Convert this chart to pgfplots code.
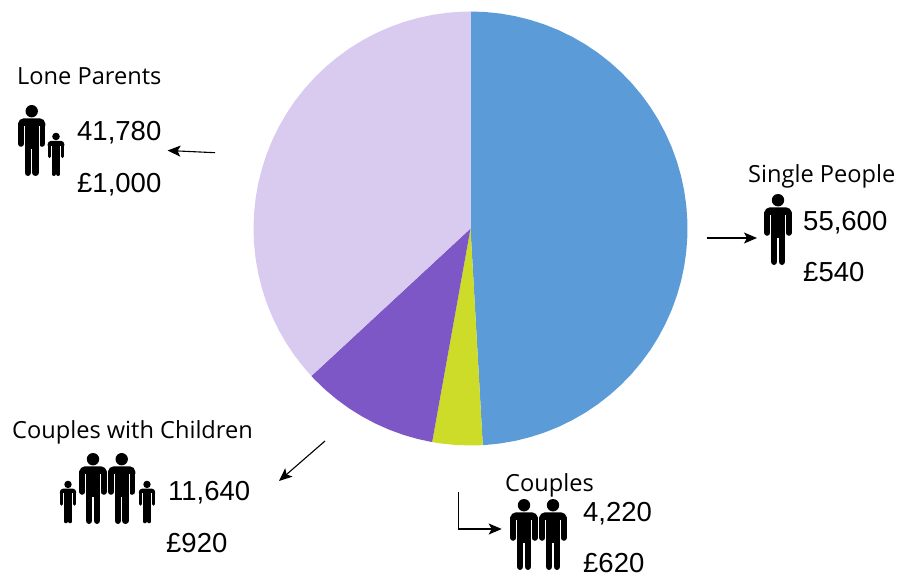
\documentclass[border=0pt]{standalone}
\usepackage{fontspec}
\usepackage{pgfplots}
\pgfplotsset{compat=1.18}
\usepgfplotslibrary{polar}
\usetikzlibrary{arrows.meta}
\setmainfont{Open Sans}
\newfontfamily\numfont{Liberation Sans}

\definecolor{singlecol}{HTML}{5B9BD7}
\definecolor{couplecol}{HTML}{CDDC29}
\definecolor{familycol}{HTML}{7E57C6}
\definecolor{lonecol}{HTML}{D9CBEF}

% Pictogram of a person: #1,#2 top centre, #3 scale (1 = 71 units tall)
\newcommand\person[3]{%
  \begin{scope}[shift={(#1,#2)},x=#3pt,y=-#3pt]
    \fill (0,6.2) circle[radius=6.2];
    \fill[rounded corners=#3*5.5pt] (-13.6,13.3) rectangle (13.6,26);
    \fill (-7.2,17) rectangle (7.2,44);
    \draw[line width=#3*6pt,line cap=round] (-10.6,19) -- (-10.6,38.8);
    \draw[line width=#3*6pt,line cap=round] (10.6,19) -- (10.6,38.8);
    \draw[line width=#3*6.6pt,line cap=round] (-3.9,40) -- (-3.9,67.7);
    \draw[line width=#3*6.6pt,line cap=round] (3.9,40) -- (3.9,67.7);
    % slim gaps between arms and body
    \fill[white] (-7.6,21) rectangle (-7.2,42);
    \fill[white] (7.2,21) rectangle (7.6,42);
  \end{scope}}
\newcommand\lbl[3]{\node[anchor=base west,inner sep=0pt,font=\fontsize{23.6}{26}\selectfont] at (#1,#2) {#3};}
\newcommand\num[3]{\node[anchor=base west,inner sep=0pt,font=\numfont\fontsize{27.5}{30}\selectfont] at (#1,#2) {#3};}
\tikzset{pointer/.style={-{Stealth[length=13pt,width=11pt,inset=3pt]},line width=1.1pt}}

\begin{document}
\begin{tikzpicture}
\path[use as bounding box] (0,0) rectangle (899pt,574pt);
\begin{axis}[
  at={(0pt,0pt)},anchor=south west,
  scale only axis,width=899pt,height=574pt,
  xmin=-470.5,xmax=428.5,ymin=-345.5,ymax=228.5,
  hide axis,clip=false,
  every axis plot/.append style={data cs=polar,draw=none}]
% Single People 55,600: 176.76 degrees from the top, clockwise
\addplot[fill=singlecol] coordinates {(0,0) (90,217) (86,217) (82,217) (78,217) (74,217) (70,217) (66,217) (62,217) (58,217) (54,217) (50,217) (46,217) (42,217) (38,217) (34,217) (30,217) (26,217) (22,217) (18,217) (14,217) (10,217) (6,217) (2,217) (-2,217) (-6,217) (-10,217) (-14,217) (-18,217) (-22,217) (-26,217) (-30,217) (-34,217) (-38,217) (-42,217) (-46,217) (-50,217) (-54,217) (-58,217) (-62,217) (-66,217) (-70,217) (-74,217) (-78,217) (-82,217) (-86,217) (-86.76,217) (0,0)};
% Couples 4,220: 13.42 degrees
\addplot[fill=couplecol] coordinates {(0,0) (-86.76,217) (-90,217) (-94,217) (-98,217) (-100.18,217) (0,0)};
% Couples with Children 11,640: 37.00 degrees
\addplot[fill=familycol] coordinates {(0,0) (-100.18,217) (-104,217) (-108,217) (-112,217) (-116,217) (-120,217) (-124,217) (-128,217) (-132,217) (-136,217) (-137.18,217) (0,0)};
% Lone Parents 41,780: 132.82 degrees
\addplot[fill=lonecol] coordinates {(0,0) (-137.18,217) (-140,217) (-144,217) (-148,217) (-152,217) (-156,217) (-160,217) (-164,217) (-168,217) (-172,217) (-176,217) (-180,217) (-184,217) (-188,217) (-192,217) (-196,217) (-200,217) (-204,217) (-208,217) (-212,217) (-216,217) (-220,217) (-224,217) (-228,217) (-232,217) (-236,217) (-240,217) (-244,217) (-248,217) (-252,217) (-256,217) (-260,217) (-264,217) (-268,217) (-270,217) (0,0)};
\end{axis}
\begin{scope}[x=1pt,y=-1pt,yshift=574pt]
  % Lone Parents
  \lbl{17}{85}{Lone Parents}
  \person{31.7}{105}{1}
  \person{56}{132.7}{0.61}
  \num{77}{141}{41,780}
  \num{77}{192.7}{£1,000}
  \draw[pointer] (215,152.7) -- (167.5,150.5);
  % Single People
  \lbl{748}{182.5}{Single People}
  \person{778}{194}{1}
  \num{803}{230}{55,600}
  \num{803}{281.7}{£540}
  \draw[pointer] (707,238) -- (757,238);
  % Couples with Children
  \lbl{12}{438}{Couples with Children}
  \person{93}{453}{1}
  \person{121.7}{453}{1}
  \person{68}{480.7}{0.6}
  \person{147}{480.7}{0.6}
  \num{168}{500.7}{11,640}
  \num{166}{552.7}{£920}
  \draw[pointer] (325,441) -- (279,481);
  % Couples
  \lbl{505}{491}{Couples}
  \person{524}{499}{1}
  \person{553}{499}{1}
  \num{583}{521}{4,220}
  \num{583}{572.5}{£620}
  \draw[pointer] (458.3,492) -- (458.3,529) -- (501.7,529);
\end{scope}
\end{tikzpicture}
\end{document}
